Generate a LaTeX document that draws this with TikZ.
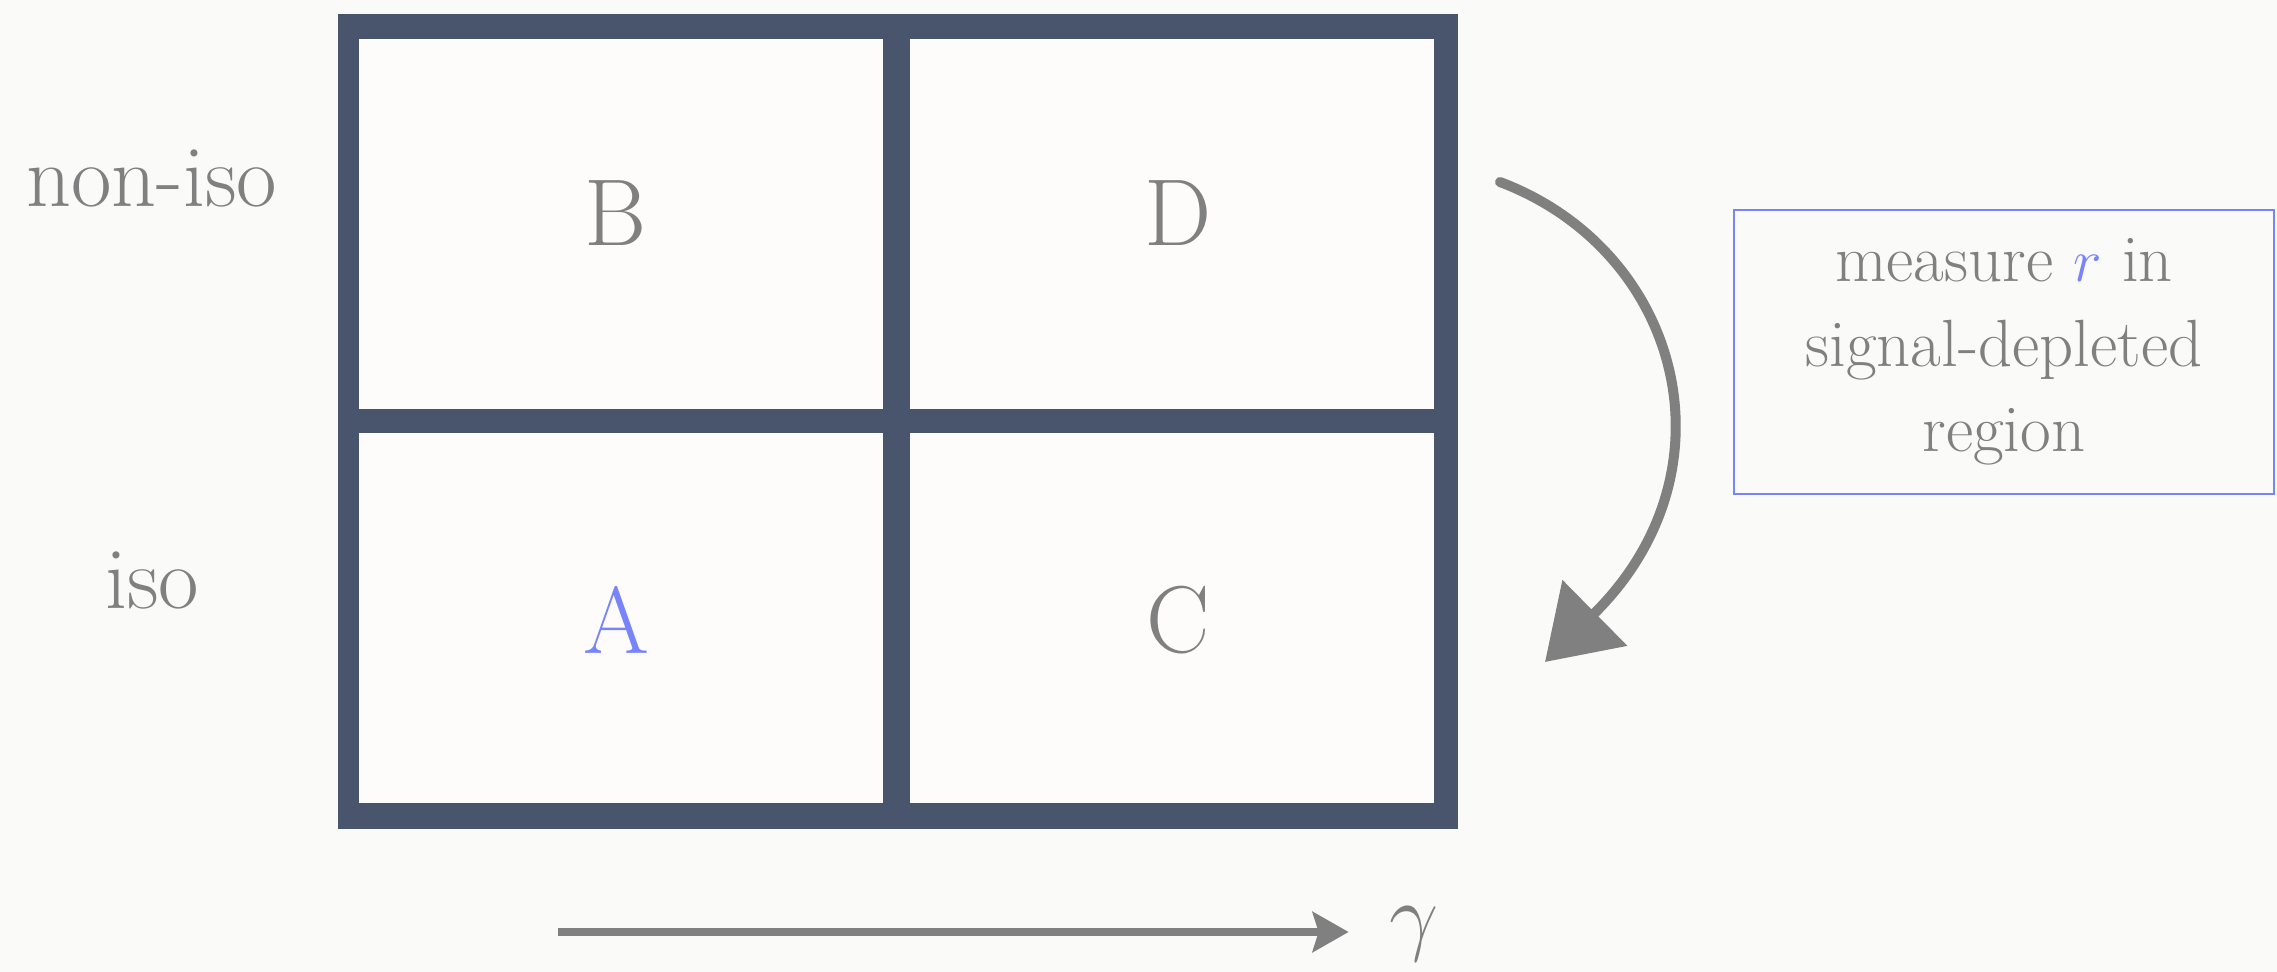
\documentclass[tikz,border=0pt]{standalone}
\usetikzlibrary{arrows.meta, positioning}
\definecolor{colGrid}{RGB}{72,85,108}
\definecolor{colText}{RGB}{128,128,128}
\definecolor{colAccent}{RGB}{120,132,250}
\definecolor{colBg}{RGB}{250,250,249}
\definecolor{colCell}{RGB}{253,252,251}
\tikzset{
  cellBox/.style={
    rectangle, fill=colCell, inner sep=0pt,
    minimum width=5.24cm, minimum height=3.69cm,
    text=colText, font=\fontsize{27}{32}\selectfont
  },
  letter/.style={
    text=colText, font=\fontsize{27}{32}\selectfont, inner sep=0pt
  },
  sideLabel/.style={
    font=\fontsize{25}{30}\selectfont, text=colText, inner sep=0pt
  },
  noteBox/.style={
    rectangle, draw=colAccent, line width=0.6pt,
    minimum width=5.39cm, minimum height=2.83cm,
    text=colText, align=center, font=\fontsize{19}{24.2}\selectfont
  },
  arr/.style={
    -{Stealth[length=0.36cm, width=0.4cm, inset=0.06cm]},
    line width=0.08cm, color=colText
  },
  sketchArr/.style={
    -{Triangle[length=0.7cm, width=0.9cm]},
    line width=0.1cm, color=colText, line cap=round
  }
}

\begin{document}
\begin{tikzpicture}[x=0.01cm, y=-0.01cm]

  \useasboundingbox[fill=colBg] (0,0) rectangle (2277,972);

  % frame of the 2x2 grid
  \fill[colGrid] (338,14) rectangle (1458,829);

  \node[cellBox] (cellB) at (621,224) {};
  \node[cellBox] (cellD) at (1172,224) {};
  \node[cellBox] (cellA) at (621,618) {};
  \node[cellBox] (cellC) at (1172,618) {};

  \node[letter] (B) at (616,213) {B};
  \node[letter] (D) at (1178,213) {D};
  \node[letter, text=colAccent] (A) at (616,620) {A};
  \node[letter] (C) at (1178,620) {C};

  % row labels
  \node[sideLabel] (nonIso) at (152,178) {non-iso};
  \node[sideLabel] (iso) at (152,580) {iso};

  % note box
  \node[noteBox] (note) at (2004,352) {measure \textcolor{colAccent}{$r$} in\\signal-depleted\\region};

  % axis
  \node[inner sep=0pt, text=colText, font=\fontsize{31}{36}\selectfont] (gam) at (1414,934) {$\gamma$};
  \coordinate (axL) at (558,932);
  \draw[arr, shorten >=0.4cm] (axL) -- (axL -| gam.west);

  % hand-drawn arrow from D down to C
  \coordinate (sketchS) at (1500,182);
  \coordinate (sketchE) at (1545,662);
  \draw[sketchArr] (sketchS) .. controls (1680,250) and (1740,470) .. (sketchE);

\end{tikzpicture}
\end{document}
